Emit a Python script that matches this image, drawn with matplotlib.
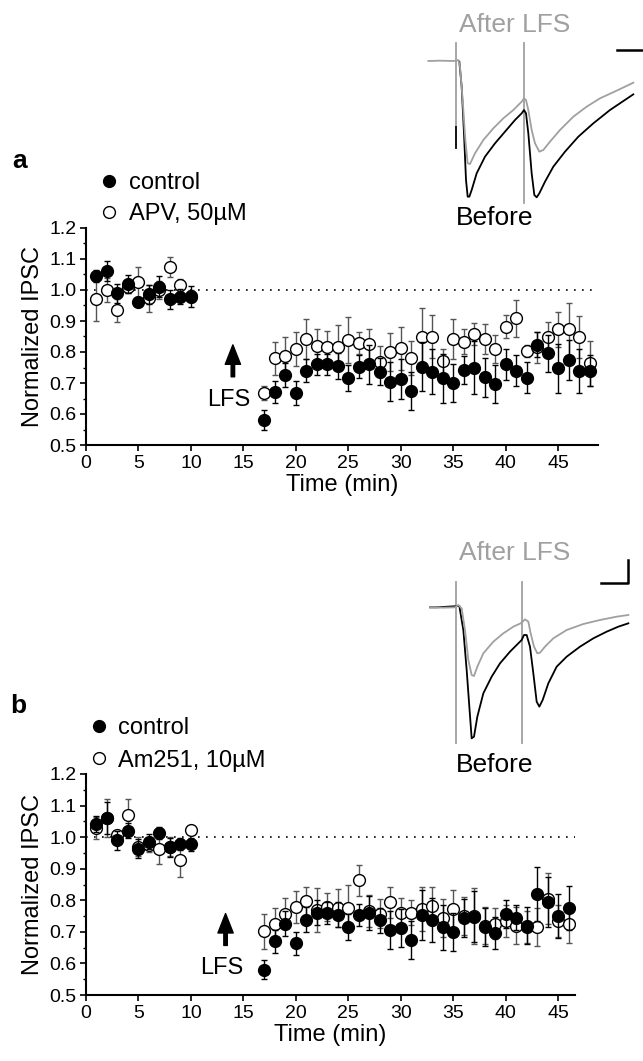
"""
LFS-induced depression of IPSCs: control vs APV (a) and control vs Am251 (b)
"""

import matplotlib
matplotlib.use("Agg")
import matplotlib.pyplot as plt
from matplotlib.ticker import MultipleLocator, FormatStrFormatter

plt.rcParams["font.family"] = ["Liberation Sans", "DejaVu Sans"]

# ---- data -----------------------------------------------------------------
time_pre = [1, 2, 3, 4, 5, 6, 7, 8, 9, 10]
time_post_a = list(range(17, 49))
time_post_b = list(range(17, 47))

# panel a: control (filled)
a_ctrl_pre = [1.045, 1.062, 0.989, 1.019, 0.962, 0.986, 1.011, 0.970, 0.978, 0.978]
a_ctrl_pre_err = [0.02, 0.032, 0.03, 0.029, 0.015, 0.03, 0.034, 0.03, 0.024, 0.034]
a_ctrl_post = [0.58, 0.67, 0.726, 0.667, 0.74, 0.76, 0.76, 0.755, 0.717, 0.753,
               0.76, 0.737, 0.704, 0.713, 0.675, 0.753, 0.737, 0.715, 0.70, 0.742,
               0.75, 0.718, 0.697, 0.76, 0.74, 0.717, 0.823, 0.796, 0.747, 0.774,
               0.739, 0.74]
a_ctrl_post_err = [0.032, 0.036, 0.04, 0.038, 0.038, 0.034, 0.034, 0.043, 0.042, 0.037,
                   0.062, 0.044, 0.063, 0.065, 0.062, 0.078, 0.072, 0.078, 0.06, 0.046,
                   0.087, 0.062, 0.06, 0.05, 0.05, 0.05, 0.04, 0.06, 0.08, 0.065,
                   0.07, 0.05]

# panel a: APV 50 uM (open)
a_apv_pre = [0.97, 1.0, 0.935, 1.01, 1.025, 0.973, 1.0, 1.075, 1.017, 0.98]
a_apv_pre_err = [0.07, 0.04, 0.037, 0.02, 0.05, 0.043, 0.03, 0.033, 0.02, 0.02]
a_apv_post = [0.667, 0.78, 0.787, 0.81, 0.842, 0.82, 0.815, 0.817, 0.839, 0.828,
              0.826, 0.769, 0.80, 0.812, 0.78, 0.85, 0.85, 0.77, 0.841, 0.833,
              0.858, 0.842, 0.809, 0.882, 0.909, 0.804, 0.815, 0.847, 0.873, 0.873,
              0.849, 0.763]
a_apv_post_err = [0.022, 0.053, 0.06, 0.054, 0.066, 0.053, 0.052, 0.07, 0.073, 0.035,
                  0.047, 0.05, 0.06, 0.07, 0.055, 0.092, 0.068, 0.04, 0.064, 0.04,
                  0.037, 0.047, 0.046, 0.038, 0.06, 0.02, 0.05, 0.05, 0.057, 0.084,
                  0.067, 0.073]

# panel b: control (filled)
b_ctrl_pre = [1.042, 1.061, 0.99, 1.021, 0.963, 0.986, 1.013, 0.968, 0.978, 0.977]
b_ctrl_pre_err = [0.025, 0.05, 0.03, 0.025, 0.03, 0.025, 0.02, 0.03, 0.02, 0.02]
b_ctrl_post = [0.58, 0.67, 0.726, 0.664, 0.739, 0.761, 0.761, 0.754, 0.715, 0.752,
               0.76, 0.737, 0.705, 0.713, 0.675, 0.754, 0.737, 0.714, 0.70, 0.743,
               0.748, 0.715, 0.697, 0.757, 0.745, 0.72, 0.819, 0.794, 0.75, 0.775]
b_ctrl_post_err = [0.03, 0.037, 0.04, 0.037, 0.04, 0.04, 0.035, 0.04, 0.04, 0.035,
                   0.055, 0.04, 0.06, 0.06, 0.06, 0.08, 0.07, 0.07, 0.06, 0.06,
                   0.08, 0.06, 0.05, 0.045, 0.04, 0.06, 0.085, 0.08, 0.07, 0.07]

# panel b: Am251 10 uM (open)
b_am_pre = [1.03, 1.06, 1.008, 1.071, 0.97, 0.974, 0.961, 0.97, 0.928, 1.024]
b_am_pre_err = [0.035, 0.06, 0.01, 0.05, 0.03, 0.02, 0.045, 0.03, 0.055, 0.01]
b_am_post = [0.702, 0.724, 0.758, 0.778, 0.797, 0.768, 0.778, 0.775, 0.777, 0.863,
             0.766, 0.758, 0.793, 0.761, 0.761, 0.772, 0.782, 0.743, 0.772, 0.75,
             0.75, 0.72, 0.726, 0.735, 0.72, 0.715, 0.715, 0.805, 0.735, 0.725]
b_am_post_err = [0.055, 0.05, 0.05, 0.05, 0.045, 0.07, 0.045, 0.06, 0.07, 0.05,
                 0.05, 0.045, 0.05, 0.045, 0.04, 0.07, 0.06, 0.06, 0.06, 0.06,
                 0.09, 0.06, 0.05, 0.05, 0.06, 0.05, 0.06, 0.08, 0.05, 0.06]

# example IPSC traces (inset units, y grows downward)
a_after_x = [85, 120, 160, 168, 175, 180, 188, 196, 203, 210, 225, 250, 280, 310, 340,
             365, 372, 378, 385, 395, 405, 418, 430, 450, 480, 520, 560, 600, 650, 700]
a_after_y = [183, 182, 183, 182, 180, 200, 300, 420, 490, 492, 460, 420, 385, 355, 330,
             305, 295, 300, 330, 390, 430, 455, 450, 425, 390, 350, 320, 295, 272, 248]
a_before_x = [178, 185, 192, 198, 203, 208, 215, 230, 255, 285, 315, 345, 365, 372,
              378, 385, 395, 403, 410, 418, 435, 460, 495, 535, 580, 630, 700]
a_before_y = [185, 260, 400, 540, 590, 590, 570, 520, 470, 430, 395, 360, 340, 330,
              340, 400, 520, 585, 592, 580, 545, 500, 455, 410, 370, 330, 283]
b_after_x = [90, 130, 165, 175, 185, 195, 205, 215, 222, 232, 250, 280, 310, 340, 362,
             368, 375, 385, 392, 402, 412, 420, 435, 460, 500, 550, 600, 650, 685]
b_after_y = [262, 263, 262, 255, 265, 330, 420, 465, 468, 440, 400, 365, 340, 320, 310,
             305, 298, 305, 340, 380, 400, 398, 380, 355, 330, 312, 300, 290, 285]
b_before_x = [90, 110, 178, 190, 200, 208, 215, 222, 232, 250, 275, 300, 330, 355, 365,
              372, 380, 390, 400, 410, 418, 428, 445, 470, 500, 540, 580, 620, 655, 685]
b_before_y = [262, 262, 258, 330, 450, 560, 655, 650, 590, 520, 470, 430, 395, 370, 360,
              345, 345, 380, 460, 545, 560, 540, 490, 440, 410, 380, 355, 335, 320, 310]

W, H = 643, 1061
FS_TICK, FS_LAB, FS_LEG, FS_TR = 14, 17, 17, 19
GREY = "#a0a0a0"


def px(x, y):
    return x / W, 1 - y / H


def _panel(ax, t_post, ctrl_pre, ctrl_pre_err, ctrl_post, ctrl_post_err,
           drug_pre, drug_pre_err, drug_post, drug_post_err, xmax, arrow, lfs_y):
    t = time_pre + t_post
    eb_kw = dict(fmt="o", ms=8.5, mew=1.0, capsize=2, capthick=1.0, elinewidth=1.0)
    drug = ax.errorbar(t, drug_pre + drug_post, yerr=drug_pre_err + drug_post_err,
                       mfc="white", mec="black", ecolor="#555555", zorder=3, **eb_kw)
    ctrl = ax.errorbar(t, ctrl_pre + ctrl_post, yerr=ctrl_pre_err + ctrl_post_err,
                       mfc="black", mec="black", ecolor="black", zorder=4, **eb_kw)
    ax.axhline(1.0, color="black", lw=1.2, ls=(0, (1, 3.8)), zorder=1)

    ax.annotate("", xy=(arrow[0], arrow[2]), xytext=(arrow[0], arrow[1]),
                arrowprops=dict(facecolor="black", edgecolor="black", width=2.5,
                                headwidth=11, headlength=14, shrink=0))
    ax.text(arrow[0] - 0.4, lfs_y, "LFS", ha="center", va="center", fontsize=FS_LAB)

    ax.set_xlim(0, xmax)
    ax.set_ylim(0.5, 1.2)
    ax.xaxis.set_major_locator(MultipleLocator(5))
    ax.yaxis.set_major_locator(MultipleLocator(0.1))
    ax.yaxis.set_minor_locator(MultipleLocator(0.05))
    ax.yaxis.set_major_formatter(FormatStrFormatter("%.1f"))
    for s in ("top", "right"):
        ax.spines[s].set_visible(False)
    for s in ("left", "bottom"):
        ax.spines[s].set_linewidth(1.5)
    ax.tick_params(axis="both", which="major", direction="out", length=4, width=1.2,
                   labelsize=FS_TICK, pad=3)
    ax.tick_params(axis="y", which="minor", direction="out", length=2.5, width=1.0)
    ax.set_xlabel("Time (min)", fontsize=FS_LAB, labelpad=2)
    ax.set_ylabel("Normalized IPSC", fontsize=FS_LAB, labelpad=4)
    return ctrl[0], drug[0]


def _traces(ax, after_x, after_y, before_x, before_y, stims, scale):
    ax.set_xlim(0, 729)
    ax.set_ylim(720, 0)
    ax.axis("off")
    for sx, y0, y1, col in stims:
        ax.plot([sx, sx], [y0, y1], color=col, lw=1.3, zorder=1)
    ax.plot(before_x, before_y, color="black", lw=1.3, zorder=2)
    ax.plot(after_x, after_y, color=GREY, lw=1.3, zorder=3)
    ax.plot(scale[0], scale[1], color="black", lw=1.8, clip_on=False)


fig = plt.figure(figsize=(W / 100, H / 100), dpi=100)

ax_a = fig.add_axes([86 / W, 1 - 445 / H, 512 / W, 217 / H])
h_a = _panel(ax_a, time_post_a, a_ctrl_pre, a_ctrl_pre_err, a_ctrl_post, a_ctrl_post_err,
             a_apv_pre, a_apv_pre_err, a_apv_post, a_apv_post_err, 48.8,
             arrow=(14.0, 0.72, 0.823), lfs_y=0.645)
ax_b = fig.add_axes([86 / W, 1 - 995 / H, 489 / W, 221 / H])
h_b = _panel(ax_b, time_post_b, b_ctrl_pre, b_ctrl_pre_err, b_ctrl_post, b_ctrl_post_err,
             b_am_pre, b_am_pre_err, b_am_post, b_am_post_err, 46.6,
             arrow=(13.3, 0.657, 0.758), lfs_y=0.584)

fig.legend(h_a, ["control", "APV, 50µM"], loc="upper left", bbox_to_anchor=px(98, 172),
           frameon=False, fontsize=FS_LEG, handlelength=0.9, handletextpad=0.4,
           labelspacing=0.38, borderpad=0, borderaxespad=0)
fig.legend(h_b, ["control", "Am251, 10µM"], loc="upper left", bbox_to_anchor=px(88, 717),
           frameon=False, fontsize=FS_LEG, handlelength=0.9, handletextpad=0.35,
           labelspacing=0.45, borderpad=0, borderaxespad=0)

fig.text(*px(12, 168), "a", fontsize=FS_TR, fontweight="bold", va="baseline")
fig.text(*px(10, 713), "b", fontsize=FS_TR, fontweight="bold", va="baseline")

ins_a = fig.add_axes([400 / W, 1 - 240 / H, 243 / W, 240 / H])
_traces(ins_a, a_after_x, a_after_y, a_before_x, a_before_y,
        stims=[(167, 130, 380, GREY), (167, 380, 445, "black"), (373, 130, 610, GREY)],
        scale=([650, 729], [150, 150]))
ins_b = fig.add_axes([400 / W, 1 - 760 / H, 243 / W, 240 / H])
_traces(ins_b, b_after_x, b_after_y, b_before_x, b_before_y,
        stims=[(168, 185, 670, GREY), (367, 185, 670, GREY)],
        scale=([603, 685, 685], [188, 188, 120]))

fig.text(*px(515, 25), "After LFS", color=GREY, fontsize=FS_TR, ha="center", va="center")
fig.text(*px(495, 218), "Before", color="black", fontsize=FS_TR, ha="center", va="center")
fig.text(*px(515, 553), "After LFS", color=GREY, fontsize=FS_TR, ha="center", va="center")
fig.text(*px(495, 765), "Before", color="black", fontsize=FS_TR, ha="center", va="center")

fig.savefig("out.png", dpi=100)
